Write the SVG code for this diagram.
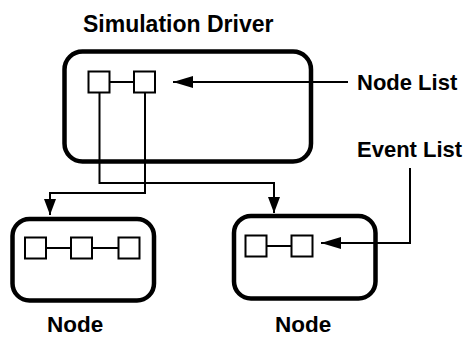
<svg xmlns="http://www.w3.org/2000/svg" width="467" height="338" viewBox="0 0 467 338">
<defs>
<style>
.box{fill:none;stroke:#000;stroke-width:4.5}
.sq{fill:#fff;stroke:#000;stroke-width:2}
.ln{fill:none;stroke:#000;stroke-width:2}
.lbl{font-family:"Liberation Sans",Arial,sans-serif;font-weight:bold;font-size:22px;fill:#000}
</style>
<marker id="ah" viewBox="0 0 20 12" refX="20" refY="6" markerWidth="20" markerHeight="12" markerUnits="userSpaceOnUse" orient="auto">
<path d="M0,0 L20,6 L0,12 Z" fill="#000"/>
</marker>
<marker id="ahs" viewBox="0 0 16 12" refX="16" refY="6" markerWidth="16" markerHeight="12" markerUnits="userSpaceOnUse" orient="auto">
<path d="M0,0 L16,6 L0,12 Z" fill="#000"/>
</marker>
</defs>
<rect width="467" height="338" fill="#fff"/>
<g id="driver">
<rect class="box" x="64.5" y="51.5" width="246.5" height="110" rx="18"/>
<line class="ln" x1="110" y1="82" x2="133" y2="82"/>
<rect class="sq" x="88.5" y="71.5" width="21" height="21"/>
<rect class="sq" x="134" y="71.5" width="21" height="21"/>
<text class="lbl" x="83" y="32" style="font-size:23px">Simulation Driver</text>
</g>
<g id="node1">
<rect class="box" x="12.5" y="219" width="141.5" height="81.5" rx="17"/>
<line class="ln" x1="47" y1="248" x2="118" y2="248"/>
<rect class="sq" x="25" y="237.5" width="21" height="21"/>
<rect class="sq" x="71" y="237.5" width="21" height="21"/>
<rect class="sq" x="118.5" y="237.5" width="21" height="21"/>
<text class="lbl" x="47" y="332" style="font-size:22.5px">Node</text>
</g>
<g id="node2">
<rect class="box" x="234" y="216" width="141.5" height="82.5" rx="17"/>
<line class="ln" x1="267" y1="246" x2="291" y2="246"/>
<rect class="sq" x="245.5" y="235.5" width="21" height="21"/>
<rect class="sq" x="291.5" y="235.5" width="21" height="21"/>
<text class="lbl" x="275" y="332" style="font-size:22.5px">Node</text>
</g>
<g id="nodelist-label">
<text class="lbl" x="357" y="90">Node List</text>
</g>
<g id="eventlist-label">
<text class="lbl" x="357" y="157">Event List</text>
</g>
<g id="connectors">
<line class="ln" x1="348" y1="82" x2="173" y2="82" marker-end="url(#ah)"/>
<polyline class="ln" points="99.5,93 99.5,183 274,183 274,213" marker-end="url(#ahs)"/>
<polyline class="ln" points="145,93 145,193 50,193 50,215" marker-end="url(#ahs)"/>
<polyline class="ln" points="410,168 410,243 321,243" marker-end="url(#ah)"/>
</g>
</svg>
